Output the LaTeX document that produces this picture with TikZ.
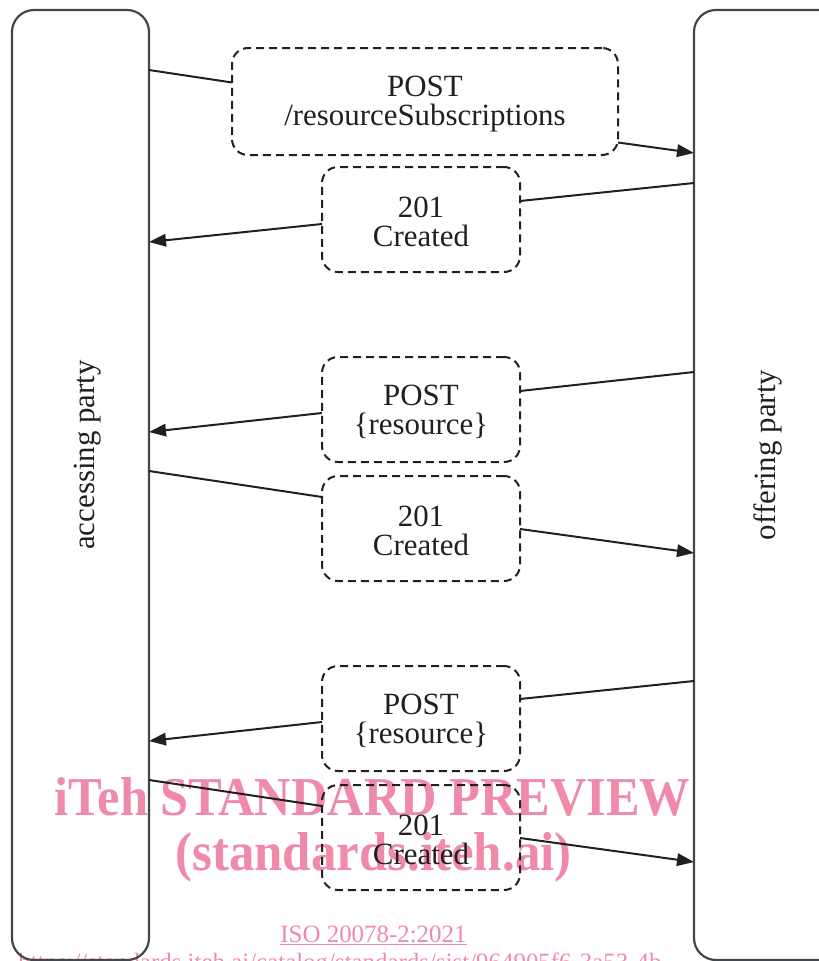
\documentclass[tikz,border=0pt]{standalone}
\usepackage{fontspec}
\setmainfont{Liberation Serif}
\usetikzlibrary{arrows.meta,calc}
\definecolor{ink}{RGB}{35,31,32}
\definecolor{frame}{RGB}{65,71,77}
\definecolor{stamp}{RGB}{239,139,168}
\begin{document}
\begin{tikzpicture}[x=1bp,y=-1bp,
  lifeline/.style={draw=frame,line width=2.2bp,rounded corners=22bp,inner sep=0pt,outer sep=0pt},
  partylabel/.style={rotate=90,text=ink,font=\fontsize{31}{29}\selectfont,inner sep=0pt},
  msgbox/.style={draw=ink,line width=2bp,dash pattern=on 8bp off 5bp,rounded corners=16bp,
    inner sep=0pt,outer sep=0pt,minimum width=198bp,minimum height=105bp,
    align=center,text=ink,font=\fontsize{31}{29.5}\selectfont},
  msgtext/.style={yshift=-2.5bp},
  link/.style={draw=ink,line width=2bp},
  msgarrow/.style={link,-{Triangle[length=17bp,width=12.5bp]}},
  stampfont/.style={text=stamp,inner sep=0pt}]
\useasboundingbox (0,0) rectangle (819,961);

% watermark, drawn beneath the diagram
\node[stampfont,anchor=base,xscale=0.92,font=\fontsize{55}{55}\selectfont\bfseries] (wm1) at (372.5,815) {iTeh STANDARD PREVIEW};
\node[stampfont,anchor=base,xscale=0.93,font=\fontsize{55}{55}\selectfont\bfseries] (wm2) at (373.5,870) {(standards.iteh.ai)};
\node[stampfont,anchor=base,font=\fontsize{25}{25}\selectfont] (wm3) at (373.5,942) {\underline{ISO 20078-2:2021}};
\node[stampfont,anchor=base west,font=\fontsize{25}{25}\selectfont] (wm4) at (18,970) {https://standards.iteh.ai/catalog/standards/sist/964905f6-3a53-4b};

% the two parties
\node[lifeline,minimum width=137bp,minimum height=950bp] (acc) at (80.5,485) {};
\node[lifeline,minimum width=148bp,minimum height=950bp] (off) at (768,485) {};
\node[partylabel] (accl) at (88,455) {accessing party};
\node[partylabel] (offl) at (768,455) {offering party};

% messages
\node[msgbox,minimum width=386bp,minimum height=107bp] (b1) at (425,101.5) {};
\node[msgbox] (b2) at (421,219.5) {};
\node[msgbox] (b3) at (421,409.5) {};
\node[msgbox] (b4) at (421,528.5) {};
\node[msgbox] (b5) at (421,718.5) {};
\node[msgbox] (b6) at (421,837.5) {};
\node[msgbox,draw=none,msgtext] (t1) at (b1) {POST\\/resourceSubscriptions};
\node[msgbox,draw=none,msgtext] (t2) at (b2) {201\\Created};
\node[msgbox,draw=none,msgtext] (t3) at (b3) {POST\\\{resource\}};
\node[msgbox,draw=none,msgtext] (t4) at (b4) {201\\Created};
\node[msgbox,draw=none,msgtext] (t5) at (b5) {POST\\\{resource\}};
\node[msgbox,draw=none,msgtext] (t6) at (b6) {201\\Created};

% connectors
\draw[link] ($(acc.north east)+(0,60)$) -- ($(b1.west)+(0,-19)$);
\draw[msgarrow] ($(b1.east)+(0,41)$) -- ($(off.north west)+(0,143)$);

\draw[link] ($(off.north west)+(0,173)$) -- ($(b2.east)+(0,-18.5)$);
\draw[msgarrow] ($(b2.west)+(0,4.5)$) -- ($(acc.north east)+(0,232)$);

\draw[link] ($(off.north west)+(0,362)$) -- ($(b3.east)+(0,-18.5)$);
\draw[msgarrow] ($(b3.west)+(0,3.5)$) -- ($(acc.north east)+(0,422)$);

\draw[link] ($(acc.north east)+(0,461)$) -- ($(b4.west)+(0,-31.5)$);
\draw[msgarrow] ($(b4.east)+(0,0.5)$) -- ($(off.north west)+(0,543)$);

\draw[link] ($(off.north west)+(0,671)$) -- ($(b5.east)+(0,-19.5)$);
\draw[msgarrow] ($(b5.west)+(0,3.5)$) -- ($(acc.north east)+(0,731)$);

\draw[link] ($(acc.north east)+(0,770)$) -- ($(b6.west)+(0,-31.5)$);
\draw[msgarrow] ($(b6.east)+(0,0.5)$) -- ($(off.north west)+(0,852)$);
\end{tikzpicture}
\end{document}
